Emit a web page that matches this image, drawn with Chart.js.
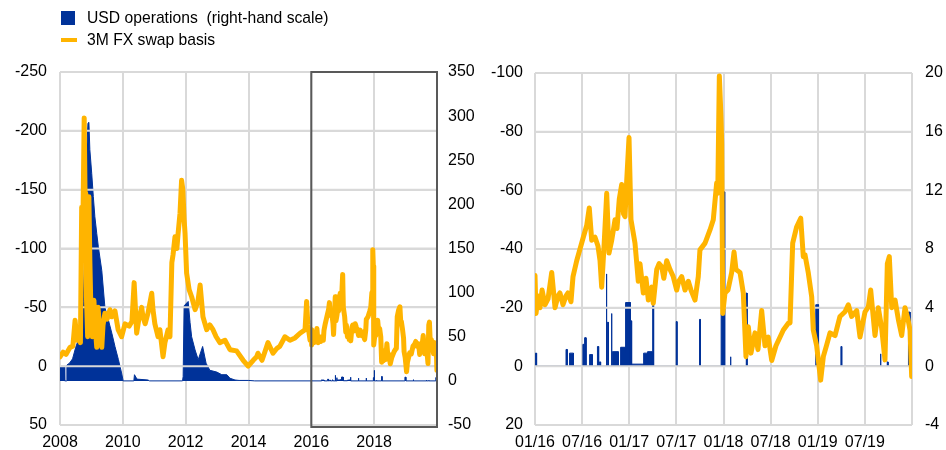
<!DOCTYPE html>
<html lang="en">
<head>
    <meta charset="UTF-8">
    <title>USD operations and 3M FX swap basis</title>
    <script src="https://cdn.jsdelivr.net/npm/chart.js"></script>
    <style>
        body {
            margin: 0;
            background: #fff;
            font-family: "Liberation Sans", Arial, sans-serif;
        }
        #wrap {
            position: relative;
            width: 946px;
            height: 450px;
        }
        canvas {
            position: absolute;
            top: 0;
        }
        .legend-item {
            position: absolute;
            left: 61px;
            font-size: 15.7px;
            line-height: 18px;
            color: #000;
            white-space: pre;
        }
        .legend-item span {
            position: absolute;
            left: 26px;
            top: -9px;
        }
    </style>
</head>
<body>
<div id="wrap">
    <canvas id="rightChart" width="473" height="450" style="left:473px"></canvas>
    <canvas id="leftChart" width="500" height="450" style="left:0"></canvas>

    <!-- legend -->
    <div class="legend-item" style="top:18px">
        <div style="position:absolute;left:0;top:-7px;width:14px;height:14px;background:#003299"></div>
        <span>USD operations  (right-hand scale)</span>
    </div>
    <div class="legend-item" style="top:40px">
        <div style="position:absolute;left:0;top:-2px;width:16px;height:4px;background:#ffb400"></div>
        <span>3M FX swap basis</span>
    </div>
</div>

<script>
    // 3M FX swap basis 2008-2015 (x = year)
    const basisEarlyYears = [
        2008.00, 2008.10, 2008.19, 2008.32, 2008.41, 2008.48, 2008.54, 2008.60, 2008.65, 2008.69,
        2008.72, 2008.77, 2008.80, 2008.82, 2008.84, 2008.88, 2008.91, 2008.92, 2008.95, 2008.99,
        2009.03, 2009.08, 2009.13, 2009.17, 2009.21, 2009.27, 2009.33, 2009.37, 2009.43, 2009.50,
        2009.59, 2009.65, 2009.75, 2009.85, 2009.96, 2010.07, 2010.20, 2010.29, 2010.36, 2010.44,
        2010.51, 2010.60, 2010.64, 2010.71, 2010.80, 2010.92, 2010.96, 2011.02, 2011.12, 2011.18,
        2011.28, 2011.34, 2011.44, 2011.50, 2011.56, 2011.60, 2011.66, 2011.72, 2011.76, 2011.82,
        2011.87, 2011.91, 2011.95, 2011.98, 2012.03, 2012.11, 2012.19, 2012.30, 2012.39, 2012.46,
        2012.55, 2012.67, 2012.77, 2012.87, 2012.97, 2013.09, 2013.25, 2013.41, 2013.62, 2013.83,
        2013.99, 2014.15, 2014.26, 2014.30, 2014.43, 2014.52, 2014.62, 2014.78, 2014.90, 2015.00,
        2015.16, 2015.32, 2015.48, 2015.64, 2015.80, 2015.85, 2015.89, 2015.96
    ];
    const basisEarly = [
        -8, -12, -10, -16, -17, -39, -22, -26, -20, -135,
        -100, -211, -140, -147, -60, -25, -80, -144, -90, -40,
        -25, -56, -30, -16, -50, -30, -16, -35, -45, -40,
        -48, -42, -47, -31, -25, -36, -34, -38, -71, -28,
        -40, -50, -42, -36, -45, -62, -48, -36, -25, -31,
        -8, -20, -31, -25, -88, -95, -110, -100, -113, -130,
        -158, -150, -125, -113, -79, -65, -59, -48, -55, -69,
        -42, -31, -35, -31, -25, -20, -22, -14, -13, -5,
        0, -5, -8, -11, -5, -12, -20, -11, -15, -17,
        -25, -22, -24, -28, -31, -55, -35, -22
    ];

    // 3M FX swap basis 2016-2019 (x = months since Jan 2016)
    const basisLateMonths = [
        0.0, 0.13, 0.4, 0.64, 0.9, 1.27, 1.66, 2.13, 2.55, 2.93,
        3.18, 3.56, 3.95, 4.2, 4.58, 4.84, 5.31, 5.73, 6.15, 6.58,
        6.91, 7.22, 7.64, 8.02, 8.28, 8.49, 8.79, 9.13, 9.42, 9.77,
        10.19, 10.44, 10.73, 11.04, 11.27, 11.46, 11.68, 11.97, 12.22, 12.73,
        13.15, 13.37, 13.79, 14.13, 14.43, 14.86, 15.06, 15.5, 15.8, 16.13,
        16.4, 16.77, 17.19, 17.6, 18.04, 18.3, 18.68, 19.1, 19.52, 19.86,
        20.37, 20.79, 21.0, 21.65, 22.28, 22.7, 23.13, 23.27, 23.47, 23.68,
        23.77, 23.9, 24.19, 24.57, 25.04, 25.34, 25.59, 26.1, 26.52, 26.86,
        27.16, 27.5, 28.01, 28.39, 28.86, 29.28, 29.7, 30.14, 30.68, 31.62,
        32.25, 32.47, 32.81, 33.32, 33.83, 34.16, 34.38, 34.8, 35.23, 35.43,
        35.86, 36.07, 36.37, 36.71, 37.14, 37.56, 38.2, 38.83, 39.47, 39.89,
        40.32, 40.96, 41.38, 42.02, 42.44, 42.74, 43.29, 43.71, 44.14, 44.56,
        44.86, 45.11, 45.42, 45.84, 46.26, 46.69, 47.11, 47.49, 47.75, 47.96
    ];
    const basisLate = [
        -31, -18, -24, -20, -26, -21, -23, -32, -20, -24,
        -25, -21, -24, -25, -22, -30.6, -36, -40, -44, -48,
        -54, -43, -44, -41, -36, -27, -41, -59, -38.6, -43,
        -50, -47, -57, -62, -52, -51, -63.5, -78, -50, -42,
        -29, -35, -25, -30, -22.6, -27, -21.5, -33, -35, -34,
        -30, -36, -33, -30.6, -26, -29, -30.6, -26, -29, -26,
        -22.6, -30.6, -39.7, -42, -46.5, -50, -62.5, -59, -99, -85,
        -76, -18, -25, -26, -32, -39, -33, -32, -25, -3.3,
        -13.5, -4.5, -11.4, -5.7, -19, -7, -10, -2, -7, -12.4,
        -14.7, -14.8, -42, -47.6, -50.5, -37.4, -38, -31.8, -23.7, -12.4,
        -7, -2.2, 4.7, -3.3, -7.3, -11.4, -10.5, -17, -18.6, -21,
        -17, -19, -10, -18.6, -20.3, -26, -10.5, -20, -13, -2.2,
        -35, -37.4, -20, -22.6, -16, -10.5, -20, -16, -12.4, 3.5
    ];

    // USD operations 2008-2015 (x = year)
    const usdEarlyYears = [
        2008.00, 2008.14, 2008.15, 2008.20, 2008.22, 2008.30, 2008.40, 2008.50, 2008.60, 2008.69,
        2008.74, 2008.79, 2008.85, 2008.89, 2008.92, 2008.95, 2009.01, 2009.06, 2009.11, 2009.17,
        2009.22, 2009.33, 2009.43, 2009.54, 2009.65, 2009.75, 2009.86, 2009.96, 2010.01, 2010.35,
        2010.37, 2010.45, 2010.80, 2010.85, 2011.90, 2011.92, 2011.95, 2012.08, 2012.14, 2012.19,
        2012.30, 2012.40, 2012.54, 2012.65, 2012.77, 2012.99, 2013.15, 2013.31, 2013.41, 2013.57,
        2013.70, 2014.00, 2014.20, 2016.00
    ];
    const usdEarly = [
        16, 16, 0, 0, 18, 20, 25, 38, 48, 65,
        90, 150, 260, 292, 293, 262, 235, 209, 186, 167,
        152, 125, 83, 69, 54, 39, 24, 9, 0, 0,
        7, 2, 1, 0, 0, 5, 85, 90, 66, 50,
        35, 24, 39, 20, 12, 10, 7, 7, 3, 1,
        0.5, 0.5, 0, 0
    ];

    // USD operations 2016-2019 (x = months since Jan 2016): start, end, amount
    const usdLateStart = [
        0.05, 3.95, 4.4, 6.1, 6.35, 6.95, 7.95, 8.2, 9.05, 9.2,
        9.7, 9.85, 10.9, 11.55, 12.15, 12.3, 13.85, 14.35, 15.0, 17.98,
        20.95, 23.7, 24.05, 24.85, 26.9, 35.75, 38.95, 43.95, 44.85, 47.55
    ];
    const usdLateEnd = [
        0.2, 4.1, 4.9, 6.25, 6.5, 7.3, 8.1, 8.35, 9.15, 9.35,
        9.8, 10.6, 11.5, 12.15, 12.3, 13.8, 14.3, 14.95, 15.1, 18.08,
        21.05, 24.05, 24.15, 24.95, 27.0, 36.1, 39.05, 44.05, 44.95, 47.75
    ];
    const usdLate = [
        0.9, 1.15, 0.9, 1.5, 1.95, 0.8, 1.35, 0.3, 6.3, 3.0,
        3.6, 1.0, 1.3, 4.35, 3.1, 0.15, 0.9, 1.0, 4.15, 3.05,
        3.2, 3.6, 11.9, 0.65, 5.0, 4.2, 1.35, 0.85, 0.3, 3.7
    ];
    const lateEndMonth = 47.96;

    // tick labels of the right panel (every 6 months from Jan 2016)
    const monthLabels = ['01/16', '07/16', '01/17', '07/17', '01/18', '07/18', '01/19', '07/19'];

    const BLUE = '#003299';
    const ORANGE = '#ffb400';
    const GRID = '#d9d9d9';
    const FONT = { family: '"Liberation Sans", Arial, sans-serif', size: 16 };

    const monthToYear = m => 2016 + m / 12;
    const same = v => v;

    function toPoints(xs, ys, conv) {
        return xs.map((x, i) => ({ x: conv(x), y: ys[i] }));
    }

    function barPoints(conv) {
        const pts = [{ x: conv(0), y: 0 }];
        usdLateStart.forEach((s, i) => {
            pts.push({ x: conv(s), y: 0 }, { x: conv(s), y: usdLate[i] },
                     { x: conv(usdLateEnd[i]), y: usdLate[i] }, { x: conv(usdLateEnd[i]), y: 0 });
        });
        pts.push({ x: conv(lateEndMonth), y: 0 });
        return pts;
    }

    function basisDataset(data) {
        return {
            label: '3M FX swap basis',
            data: data,
            yAxisID: 'y',
            borderColor: ORANGE,
            borderWidth: 5,
            borderJoinStyle: 'round',
            borderCapStyle: 'round',
            pointRadius: 0,
            tension: 0,
            fill: false
        };
    }

    function usdDataset(data) {
        return {
            label: 'USD operations',
            data: data,
            yAxisID: 'y2',
            borderColor: BLUE,
            backgroundColor: BLUE,
            borderWidth: 1,
            pointRadius: 0,
            tension: 0,
            fill: 'origin'
        };
    }

    // horizontal grid lines show over the blue area, under the orange line
    const gridOverBars = {
        id: 'gridOverBars',
        afterDatasetDraw(chart, args) {
            if (args.index !== 1) return;
            const ctx = chart.ctx, area = chart.chartArea, y = chart.scales.y;
            ctx.save();
            ctx.strokeStyle = GRID;
            ctx.lineWidth = 2;
            y.ticks.forEach(t => {
                const py = y.getPixelForValue(t.value);
                ctx.beginPath();
                ctx.moveTo(area.left, py);
                ctx.lineTo(area.right, py);
                ctx.stroke();
            });
            ctx.restore();
        }
    };

    // frame around 2016-2019 in the long-run panel
    const zoomBox = {
        id: 'zoomBox',
        afterDatasetsDraw(chart) {
            const ctx = chart.ctx, area = chart.chartArea, x = chart.scales.x;
            const x1 = x.getPixelForValue(2016), x2 = x.getPixelForValue(2020);
            ctx.save();
            ctx.strokeStyle = '#595959';
            ctx.lineWidth = 2;
            ctx.strokeRect(x1, area.top, x2 - x1, area.bottom + 2 - area.top);
            ctx.restore();
        }
    };

    function makeOptions(o) {
        return {
            responsive: false,
            animation: false,
            layout: { padding: { top: o.top, left: 0, right: 0, bottom: 0 } },
            plugins: { legend: { display: false }, tooltip: { enabled: false } },
            scales: {
                x: {
                    type: 'linear',
                    min: o.xMin,
                    max: o.xMax,
                    grid: { color: GRID, lineWidth: 2, drawTicks: false },
                    border: { display: false },
                    ticks: {
                        stepSize: o.xStep,
                        padding: 8,
                        maxRotation: 0,
                        autoSkip: false,
                        color: '#000',
                        font: FONT,
                        callback: o.xLabel
                    },
                    afterFit: s => { s.height = 25; }
                },
                y: {
                    position: 'left',
                    reverse: true,
                    min: o.yMin,
                    max: o.yMax,
                    grid: { color: GRID, lineWidth: 2, drawTicks: false },
                    border: { display: false },
                    ticks: { stepSize: o.yStep, padding: o.leftPad, color: '#000', font: FONT },
                    afterFit: s => { s.width = o.leftW; }
                },
                y2: {
                    position: 'right',
                    min: o.y2Min,
                    max: o.y2Max,
                    grid: { display: false, drawTicks: false },
                    border: { display: false },
                    ticks: { stepSize: o.y2Step, padding: o.rightPad, color: '#000', font: FONT },
                    afterFit: s => { s.width = o.rightW; }
                }
            }
        };
    }

    // long-run panel
    const leftBasis = toPoints(basisEarlyYears, basisEarly, same)
        .concat(toPoints(basisLateMonths, basisLate, monthToYear));
    const leftUsd = toPoints(usdEarlyYears, usdEarly, same).concat(barPoints(monthToYear));

    new Chart(document.getElementById('leftChart'), {
        type: 'line',
        data: { datasets: [basisDataset(leftBasis), usdDataset(leftUsd)] },
        options: makeOptions({
            top: 72, xMin: 2008, xMax: 2020, xStep: 2,
            xLabel: v => (v >= 2020 ? '' : String(v)),
            yMin: -250, yMax: 50, yStep: 50, leftW: 60, leftPad: 13,
            y2Min: -50, y2Max: 350, y2Step: 50, rightW: 63, rightPad: 11
        }),
        plugins: [gridOverBars, zoomBox]
    });

    // 2016-2019 panel
    new Chart(document.getElementById('rightChart'), {
        type: 'line',
        data: {
            datasets: [
                basisDataset(toPoints(basisLateMonths, basisLate, same)),
                usdDataset(barPoints(same))
            ]
        },
        options: makeOptions({
            top: 73, xMin: 0, xMax: 48, xStep: 6,
            xLabel: v => monthLabels[v / 6] || '',
            yMin: -100, yMax: 20, yStep: 20, leftW: 62, leftPad: 12,
            y2Min: -4, y2Max: 20, y2Step: 4, rightW: 34, rightPad: 13
        }),
        plugins: [gridOverBars]
    });
</script>
</body>
</html>
